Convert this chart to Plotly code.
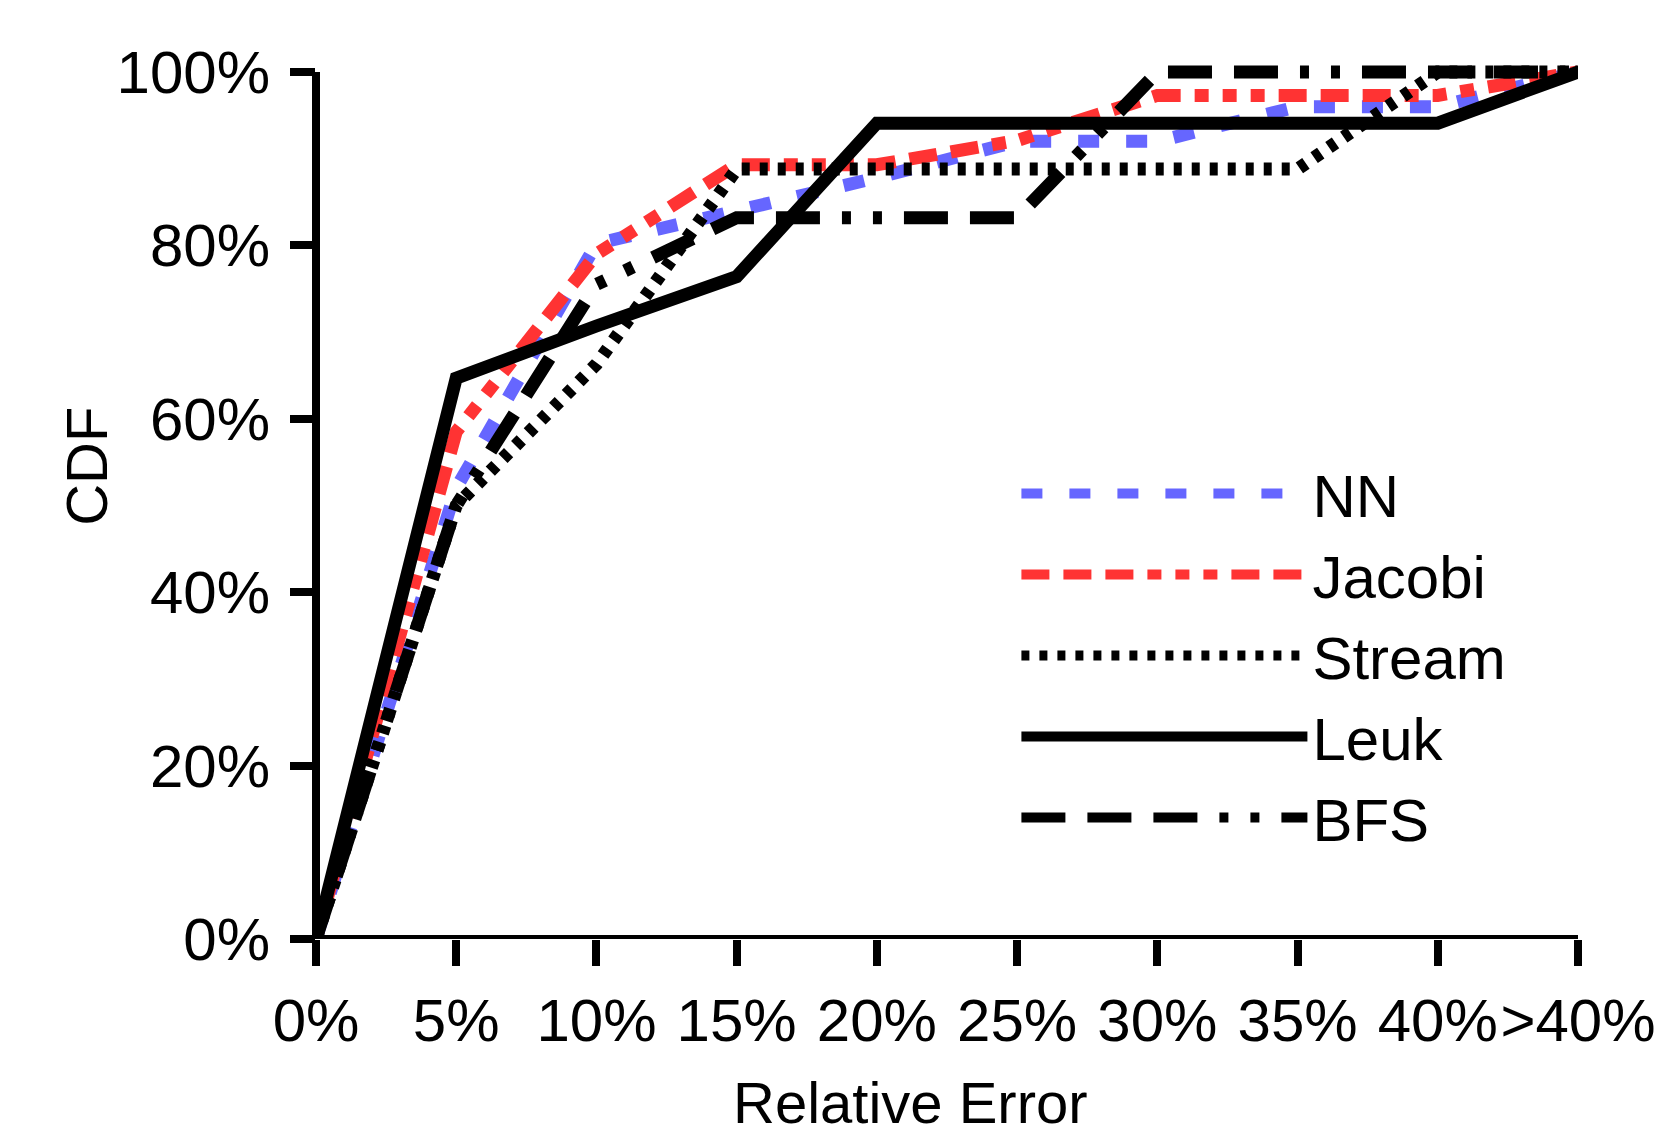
import plotly.graph_objects as go

# ---- data ----
categories = ["0%", "5%", "10%", "15%", "20%", "25%", "30%", "35%", "40%", ">40%"]
nn     = [0, 52.0, 80.2, 84.0, 87.8, 92.0, 92.0, 96.0, 96.0, 100]
jacobi = [0, 58.5, 79.0, 89.3, 89.3, 92.1, 97.3, 97.3, 97.3, 100]
stream = [0, 50.0, 66.3, 88.8, 88.8, 88.8, 88.8, 88.8, 100, 100]
leuk   = [0, 64.7, 70.7, 76.4, 94.1, 94.1, 94.1, 94.1, 94.1, 100]
bfs    = [0, 50.0, 75.5, 83.2, 83.2, 83.2, 100, 100, 100, 100]
y_ticks = [0, 20, 40, 60, 80, 100]
y_tick_labels = ["0%", "20%", "40%", "60%", "80%", "100%"]
x_title = "Relative Error"
y_title = "CDF"

series = [
    ("NN", nn, "#6666FF", "21px,27px"),
    ("Jacobi", jacobi, "#FF3333", "28px,14px,28px,14px,28px,14px,14px,14px,14px,14px,14px,14px"),
    ("Stream", stream, "#000000", "8px,10px"),
    ("Leuk", leuk, "#000000", "solid"),
    ("BFS", bfs, "#000000", "44px,22px,44px,22px,44px,22px,9px,22px,9px,22px"),
]

FONT = "Liberation Sans, Arial, sans-serif"
W, H = 1663, 1126
x_left, x_right = 316, 1578
y0_px, y100_px = 939.5, 72.0
ymax = 101.5
px_per_pct = (y0_px - y100_px) / 100.0
plot_h = ymax * px_per_pct
plot_w = x_right - x_left
top = y0_px - plot_h


def px_to_paper_x(px):
    return (px - x_left) / plot_w


def px_to_paper_y(py):
    return (y0_px - py) / plot_h


fig = go.Figure()
for name, vals, color, dash in series:
    fig.add_trace(go.Scatter(
        x=categories, y=vals, mode="lines", name=name,
        line=dict(color=color, width=13, dash=dash),
    ))

axis_common = dict(
    showgrid=False, zeroline=False, showline=False,
    ticks="outside", tickwidth=8, tickcolor="black",
    tickfont=dict(family=FONT, size=60, color="black"),
    automargin=False,
)

fig.update_layout(
    width=W, height=H,
    margin=dict(l=x_left, r=W - x_right, t=top, b=H - y0_px),
    paper_bgcolor="white", plot_bgcolor="white",
    font=dict(family=FONT, size=58, color="black"),
    xaxis=dict(
        type="category", range=[0, 9], ticklen=26, ticklabelstandoff=3,
        **axis_common,
    ),
    yaxis=dict(
        range=[0, ymax], tickvals=y_ticks, ticktext=y_tick_labels, ticklen=25,
        ticklabelstandoff=8,
        **axis_common,
    ),
    legend=dict(
        x=0.555, y=0.558, xanchor="left", yanchor="top",
        itemwidth=286, bgcolor="rgba(0,0,0,0)",
        font=dict(family=FONT, size=60, color="black"),
    ),
    annotations=[
        dict(text=x_title, xref="paper", yref="paper",
             x=px_to_paper_x(910), y=px_to_paper_y(1103),
             xanchor="center", yanchor="middle", showarrow=False,
             font=dict(family=FONT, size=58, color="black")),
        dict(text=y_title, xref="paper", yref="paper", textangle=-90,
             x=px_to_paper_x(87), y=px_to_paper_y(467),
             xanchor="center", yanchor="middle", showarrow=False,
             font=dict(family=FONT, size=58, color="black")),
    ],
    shapes=[
        dict(type="line", xref="paper", yref="y", x0=0, x1=1, y0=0, y1=0,
             line=dict(color="black", width=8)),
        dict(type="line", xref="paper", yref="y", x0=0, x1=0, y0=0, y1=100,
             line=dict(color="black", width=8)),
    ],
)

fig.write_html("out.html", config={"displayModeBar": False},
               post_script="document.body.style.margin='0';")
